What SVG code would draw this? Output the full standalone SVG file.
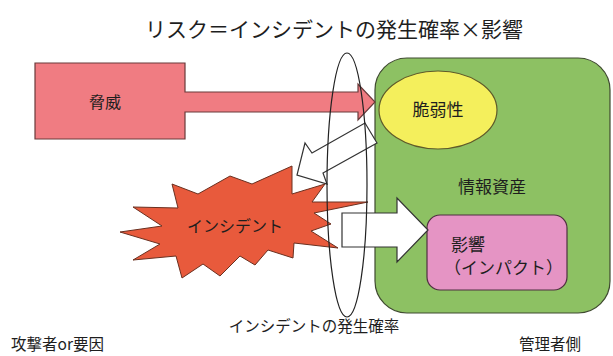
<svg xmlns="http://www.w3.org/2000/svg" width="613" height="356" viewBox="0 0 613 356">
<style>
text{font-family:"Noto Sans CJK JP","Noto Sans",sans-serif;fill:#1e1e1e;font-weight:400;}
.t{font-size:21px;text-anchor:middle;}
.n{font-size:16px;}
.m{font-size:17px;}
.c{text-anchor:middle;}
.lbl{font-size:15.5px;}
.wa{fill:#ffffff;stroke:#333;stroke-width:1.2;stroke-linejoin:miter;}
</style>
<rect width="613" height="356" fill="#ffffff"/>
<text class="t" x="334" y="37">リスク＝インシデントの発生確率×影響</text>
<g id="asset">
<rect x="375" y="58" width="235" height="255" rx="32" fill="#8dc163" stroke="#3f4a30" stroke-width="1.2"/>
<text class="m c" x="492" y="193">情報資産</text>
</g>
<g id="vulnerability">
<ellipse cx="438" cy="110" rx="59" ry="39" fill="#f4ef5c" stroke="#5f5a2a" stroke-width="1.2"/>
<text class="m c" x="438" y="116">脆弱性</text>
</g>
<g id="impact">
<rect x="427" y="215" width="140" height="75" rx="13" fill="#e594c4" stroke="#4f3040" stroke-width="1.2"/>
<text class="m" x="451" y="251">影響</text>
<text class="m" x="444" y="274">（インパクト）</text>
</g>
<g id="threat">
<polygon points="35,63 185,63 185,92 358,92 358,84 375,102 358,120 358,112 185,112 185,139 35,139" fill="#f07c82" stroke="#6a3a3a" stroke-width="1.2"/>
<text class="n c" x="105" y="108">脅威</text>
</g>
<g id="connectors">
<polygon class="wa" points="365,123 377,143 323,173 327,184 297,175 305,143 312,153"/>
<polygon class="wa" points="342,213 397,213 397,198 428,230 397,262 397,247 342,247"/>
</g>
<g id="incident">
<polygon points="120,232 162,226 133,207 178,208 172,184 198,194 230,176 252,184 292,166 292,194 325,184 312,202 368,202 314,213 331,224 311,231 338,248 294,243 293,258 268,250 255,265 240,256 220,276 203,264 182,278 176,256 133,260 160,244" fill="#e85a3c" stroke="#6a3020" stroke-width="1"/>
<text class="n c" x="235" y="232">インシデント</text>
</g>
<g id="probability">
<ellipse cx="347" cy="185" rx="20" ry="132" fill="none" stroke="#222" stroke-width="1.2"/>
<text class="lbl c" x="314" y="332">インシデントの発生確率</text>
</g>
<text class="lbl" x="11" y="350">攻撃者or要因</text>
<text class="lbl" x="519" y="350">管理者側</text>
</svg>
